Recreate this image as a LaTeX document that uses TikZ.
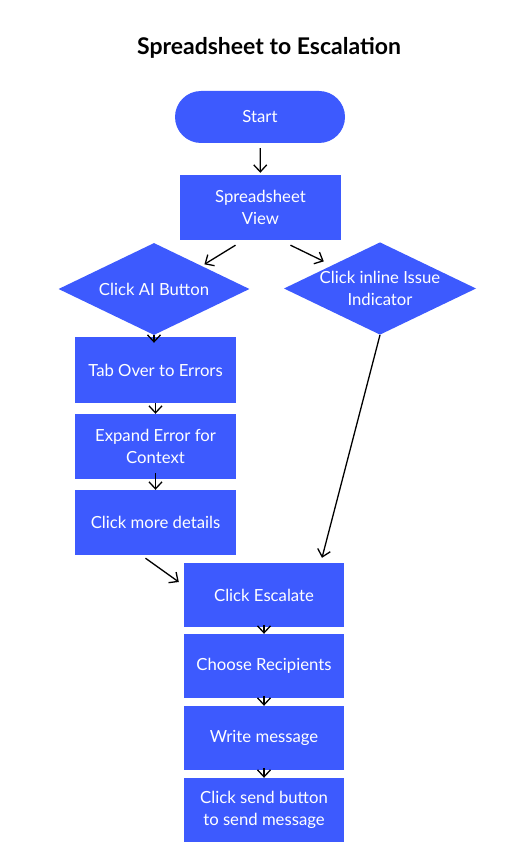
\documentclass[tikz,border=0pt]{standalone}
\usepackage{fontspec}
\setmainfont{Lato}
\usepackage{tikz}
\usetikzlibrary{shapes.geometric,arrows.meta}

\definecolor{flowblue}{HTML}{3D5AFE}

\begin{document}
\begin{tikzpicture}[
        x=1pt, y=-1pt,
        stepbox/.style = {rectangle, fill=flowblue, text=white, align=center, minimum width=161pt, minimum height=65pt, inner sep=2pt, font=\fontsize{16.7}{22}\selectfont},
        startbox/.style = {stepbox, rounded corners=26pt, minimum width=170pt, minimum height=52pt},
        choice/.style = {diamond, fill=flowblue, text=white, align=center, aspect=2.08, inner sep=0pt, minimum width=191pt, minimum height=92pt, font=\fontsize{16.7}{22}\selectfont},
        flow/.style = {->, line width=1.3pt, black},
        >={Straight Barb[length=7pt, width=13pt]}
        ]

        \useasboundingbox (0,0) rectangle (531,861);

        \node (title) at (269,48) [font=\bfseries\fontsize{23}{28}\selectfont] {Spreadsheet to Escalation};

        \node (start) at (260,117)      [startbox] {Start};
        \node (sheet) at (260.5,207.5)  [stepbox] {Spreadsheet\\View};
        \node (ai) at (154,289)         [choice] {Click AI Button};
        \node (issue) at (380,288.5)    [choice, minimum width=190pt] {Click inline Issue\\Indicator};

        % left branch
        \node (tab) at (155.5,370)      [stepbox, minimum height=66pt] {Tab Over to Errors};
        \node (expand) at (155.5,446.5) [stepbox] {Expand Error for\\Context};
        \node (more) at (155.5,522.5)   [stepbox] {Click more details};

        % escalation column
        \node (esc) at (264,595)        [stepbox, minimum width=160pt, minimum height=64pt] {Click Escalate};
        \node (choose) at (264,666)     [stepbox, minimum width=160pt, minimum height=64pt] {Choose Recipients};
        \node (write) at (264,738)      [stepbox, minimum width=160pt, minimum height=64pt] {Write message};
        \node (send) at (264,810)       [stepbox, minimum width=160pt, minimum height=64pt] {Click send button\\to send message};

        \draw[flow, shorten <=5pt, shorten >=2pt] (start) -- (sheet);
        \draw[flow, shorten >=3pt] ([xshift=-25pt,yshift=-5pt]sheet.south) -- (ai.north east);
        \draw[flow, shorten >=9pt] ([xshift=30pt,yshift=-5pt]sheet.south) -- (issue.north west);
        \draw[flow, shorten >=-6pt] (ai.south) -- (ai.south |- tab.north);
        \draw[flow] (tab) -- (expand);
        \draw[flow, shorten <=-6pt] (expand) -- (more);
        \draw[flow] ([xshift=-10pt,yshift=-3pt]more.south) -- ([xshift=-5pt,yshift=13pt]esc.west);
        \draw[flow] (issue.south) -- ([xshift=58pt,yshift=5pt]esc.north);
        \draw[flow, shorten <=-2pt] (esc) -- (choose);
        \draw[flow, shorten <=-2pt] (choose) -- (write);
        \draw[flow, shorten <=-2pt] (write) -- (send);
    \end{tikzpicture}
\end{document}
